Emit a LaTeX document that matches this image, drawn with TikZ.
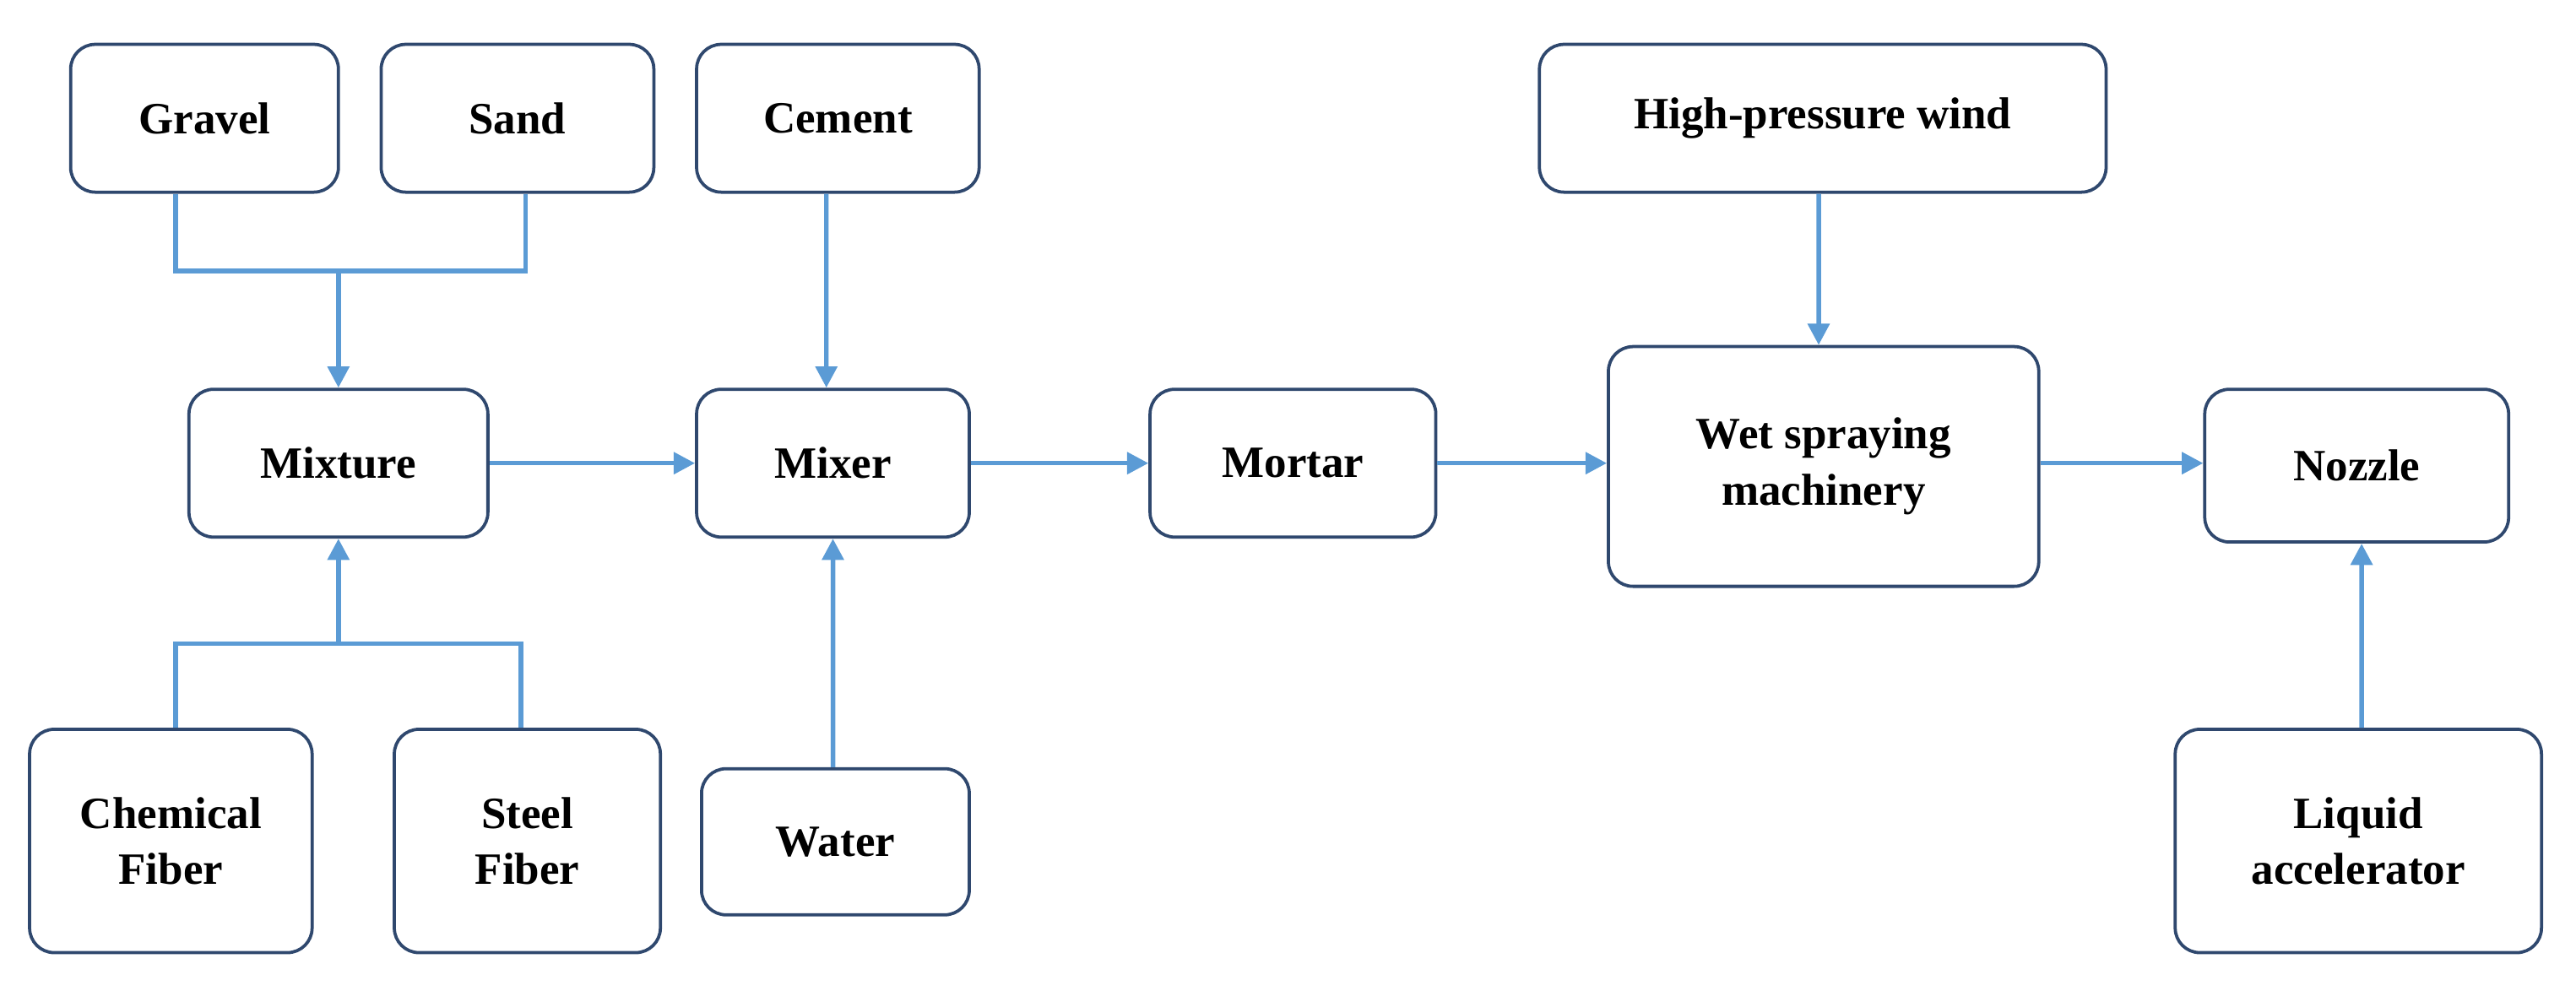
\documentclass[tikz,border=0pt]{standalone}
\usepackage{fontspec}
\setmainfont{Liberation Serif}
\usetikzlibrary{arrows.meta,positioning}
\definecolor{linkblue}{RGB}{91,155,213}
\definecolor{boxline}{RGB}{47,72,110}
\tikzset{
  box/.style={draw=boxline, line width=1.1pt, rectangle, rounded corners=0.3cm, align=center, inner sep=0pt,
    font=\fontsize{15.5}{19.5}\selectfont\bfseries},
  link/.style={draw=linkblue, line width=1.6pt},
  arrow/.style={link, -{Triangle[length=0.26cm, width=0.26cm]}}
}
\begin{document}
\begin{tikzpicture}[x=0.02cm, y=0.02cm]
        \useasboundingbox (0,0) rectangle (1568,603);
        % Top row
        \node[box, minimum width=3.26cm, minimum height=1.8cm] (gravel) at (124.5,531) {Gravel};
        \node[box, minimum width=3.32cm, minimum height=1.8cm] (sand) at (315,531) {Sand};
        \node[box, minimum width=3.44cm, minimum height=1.8cm] (cement) at (510,531) {Cement};
        \node[box, minimum width=6.9cm, minimum height=1.8cm] (wind) at (1109.5,531) {High-pressure wind};
        
        % Middle row
        \node[box, minimum width=3.64cm, minimum height=1.8cm] (mixture) at (206,321) {Mixture};
        \node[box, minimum width=3.32cm, minimum height=1.8cm] (mixer) at (507,321) {Mixer};
        \node[box, minimum width=3.48cm, minimum height=1.8cm] (mortar) at (787,321) {Mortar};
        \node[box, minimum width=5.24cm, minimum height=2.92cm] (machine) at (1110,319) {Wet spraying\\machinery};
        \node[box, minimum width=3.7cm, minimum height=1.86cm] (nozzle) at (1434.5,319.5) {Nozzle};
        
        % Bottom row
        \node[box, minimum width=3.44cm, minimum height=2.72cm] (chemical) at (104,91) {Chemical\\Fiber};
        \node[box, minimum width=3.24cm, minimum height=2.72cm] (steel) at (321,91) {Steel\\Fiber};
        \node[box, minimum width=3.26cm, minimum height=1.78cm] (water) at (508.5,90.5) {Water};
        \node[box, minimum width=4.46cm, minimum height=2.72cm] (liquid) at (1435.5,91) {Liquid\\accelerator};
        
        % Junctions
        \coordinate (gl) at (107,438);
        \coordinate (sr) at (320,438);
        \coordinate (jtop) at (206,438);
        \coordinate (cl) at (107,211);
        \coordinate (sl) at (317,211);
        \coordinate (jbot) at (206,211);
        
        % Connect nodes
        \draw[link] (gravel.south -| gl) -- (gl) -- (sr) -- (sand.south -| sr);
        \draw[arrow] (jtop) -- (mixture.north);
        \draw[link] (chemical.north -| cl) -- (cl) -- (sl) -- (steel.north -| sl);
        \draw[arrow] (jbot) -- (mixture.south);
        \draw[arrow] ([xshift=-0.14cm]cement.south) -- ([xshift=-0.08cm]mixer.north);
        \draw[arrow] ([xshift=-0.03cm]water.north) -- (mixer.south);
        \draw[arrow] ([xshift=-0.05cm]wind.south) -- ([xshift=-0.06cm]machine.north);
        \draw[arrow] ([xshift=0.04cm]liquid.north) -- ([xshift=0.06cm]nozzle.south);
        \draw[arrow] (mixture.east |- 0,321) -- (mixer.west |- 0,321);
        \draw[arrow] (mixer.east |- 0,321) -- (mortar.west |- 0,321);
        \draw[arrow] (mortar.east |- 0,321) -- (machine.west |- 0,321);
        \draw[arrow] (machine.east |- 0,321) -- (nozzle.west |- 0,321);
    \end{tikzpicture}
\end{document}
